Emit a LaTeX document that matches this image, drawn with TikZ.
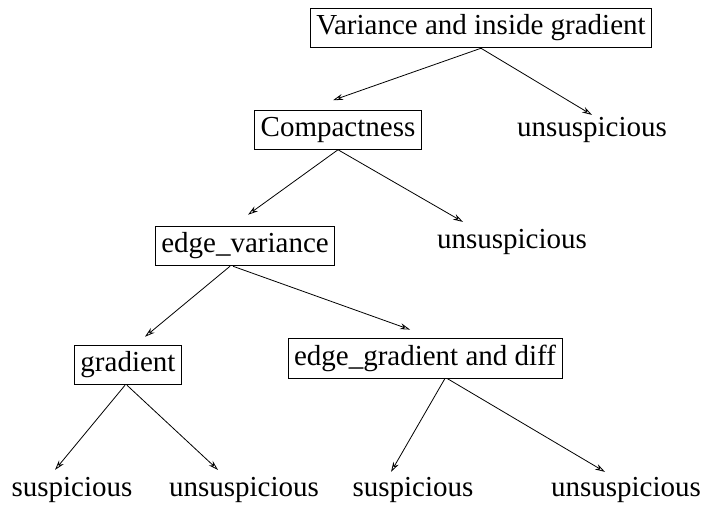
\documentclass[tikz,border=0pt]{standalone}
\usepackage{fontspec}
\setmainfont{Liberation Serif}
\usetikzlibrary{arrows.meta,calc}
\begin{document}
\begin{tikzpicture}[x=0.5pt, y=-0.5pt,
    font=\fontsize{14.5}{17}\selectfont,
    >={Stealth[length=5pt,width=3pt,open]},
    test/.style={draw, thin, inner xsep=3pt, minimum height=18pt},
    leaf/.style={inner sep=0pt}]
  \useasboundingbox (0,0) rectangle (704,506);
  % tests
  \node[test] (root) at (481,28) {Variance and inside gradient};
  \node[test] (comp) at (338,130) {Compactness};
  \node[test] (ev) at (245,246) {edge\_variance};
  \node[test] (grad) at (128,365) {gradient};
  \node[test] (eg) at (425,358) {edge\_gradient and diff};
  % outcomes
  \node[leaf] (un1) at (592,130) {unsuspicious};
  \node[leaf] (un2) at (512,242) {unsuspicious};
  \node[leaf] (s1) at (72,490) {suspicious};
  \node[leaf] (u1) at (244,490) {unsuspicious};
  \node[leaf] (s2) at (413,490) {suspicious};
  \node[leaf] (u2) at (626,490) {unsuspicious};
  % branches
  \draw[->] (root.south) -- ($(comp.north)+(-5,-10)$);
  \draw[->] (root.south) -- ($(un1.north)+(0,-2)$);
  \draw[->] (comp.south) -- ($(ev.north)+(3,-11)$);
  \draw[->] (comp.south) -- ($(un2.north)+(-49,-7)$);
  \draw[->] ($(ev.south)+(-15,0)$) -- ($(grad.north)+(17,-8)$);
  \draw[->] ($(ev.south)+(-12,0)$) -- ($(eg.north)+(-15,-8)$);
  \draw[->] ($(grad.south)+(-3,0)$) -- ($(s1.north)+(-17,-7)$);
  \draw[->] ($(grad.south)+(-1,0)$) -- ($(u1.north)+(-26,-7)$);
  \draw[->] ($(eg.south)+(20,0)$) -- ($(s2.north)+(-22,-5)$);
  \draw[->] ($(eg.south)+(22,0)$) -- ($(u2.north)+(-21,-5)$);
\end{tikzpicture}
\end{document}
